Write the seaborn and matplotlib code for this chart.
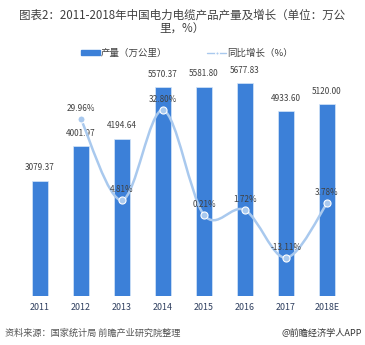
import matplotlib
matplotlib.use("Agg")
import matplotlib.pyplot as plt
import seaborn as sns
import numpy as np
import pandas as pd
from matplotlib.path import Path
from matplotlib.patches import PathPatch
from matplotlib.lines import Line2D
from matplotlib.patches import Patch

years = ["2011", "2012", "2013", "2014", "2015", "2016", "2017", "2018E"]
output = [3079.37, 4001.97, 4194.64, 5570.37, 5581.80, 5677.83, 4933.60, 5120.00]
growth_years = ["2012", "2013", "2014", "2015", "2016", "2017", "2018E"]
growth = [29.96, 4.81, 32.80, 0.21, 1.72, -13.11, 3.78]

title = "图表2：2011-2018年中国电力电缆产品产量及增长（单位：万公\n里，%）"
legend_bar = "产量（万公里）"
legend_line = "同比增长（%）"
source = "资料来源：国家统计局 前瞻产业研究院整理"
credit = "@前瞻经济学人APP"

sns.set_theme(style="white")
plt.rcParams['font.family'] = ['Noto Sans CJK SC', 'DejaVu Sans']

BAR = "#3c80d8"
LINE = "#a9c9ee"
TXT = "#404040"

fig = plt.figure(figsize=(3.65, 3.45), dpi=100)
ax = fig.add_axes([19.5/365, 1-296/345, 328/365, 225/345])

df = pd.DataFrame({"year": years, "output": output})
sns.barplot(data=df, x="year", y="output", color=BAR, width=0.4, ax=ax,
            edgecolor="#d6e6f8", linewidth=0.5, saturation=1)
ax.set_ylim(0, 6000)
ax.set_xlim(-0.5, len(years)-0.5)
for i, v in enumerate(output):
    ax.annotate(f"{v:.2f}", (i, v), xytext=(0, 6), textcoords="offset points",
                ha="center", va="bottom", fontsize=5.9, color=TXT)
ax.set_xlabel("")
ax.set_ylabel("")
ax.set_yticks([])
ax.tick_params(axis="x", length=0, labelsize=6.4, labelcolor="#2f3f5f", pad=5)
for s in ax.spines.values():
    s.set_visible(False)

ax2 = ax.twinx()
ax2.set_ylim(-25, 45)
ax2.set_yticks([])
for s in ax2.spines.values():
    s.set_visible(False)

xs = np.array([years.index(y) for y in growth_years], dtype=float)
ys = np.array(growth, dtype=float)
# smooth curve as cubic Bezier path through the data points
verts = [(xs[0], ys[0])]
codes = [Path.MOVETO]
n = len(xs)
for i in range(n-1):
    p0 = (xs[max(i-1, 0)], ys[max(i-1, 0)])
    p1 = (xs[i], ys[i])
    p2 = (xs[i+1], ys[i+1])
    p3 = (xs[min(i+2, n-1)], ys[min(i+2, n-1)])
    c1 = (p1[0] + (p2[0]-p0[0])/6, p1[1] + (p2[1]-p0[1])/6)
    c2 = (p2[0] - (p3[0]-p1[0])/6, p2[1] - (p3[1]-p1[1])/6)
    verts += [c1, c2, p2]
    codes += [Path.CURVE4]*3
ax2.add_patch(PathPatch(Path(verts, codes), facecolor="none", edgecolor=LINE, lw=1.8, zorder=3))
gdf = pd.DataFrame({"x": xs, "g": ys})
sns.scatterplot(data=gdf, x="x", y="g", ax=ax2, s=26, color=LINE, edgecolor="white",
                linewidth=0.8, zorder=4, legend=False)
ax2.set_xlabel("")
ax2.set_ylabel("")
for x, g in zip(xs, ys):
    ax2.annotate(f"{g:.2f}%", (x, g), xytext=(0, 4.5), textcoords="offset points",
                 ha="center", va="bottom", fontsize=5.9, color=TXT, zorder=5)

fig.text(0.5, 1-9/345, title, ha="center", va="top", fontsize=8.3, color=TXT,
         linespacing=1.1, fontweight="medium")

handles = [Patch(facecolor=BAR, edgecolor=BAR),
           Line2D([0], [0], color=LINE, lw=1, marker="o", markersize=2.5,
                  markerfacecolor=LINE, markeredgecolor="white")]
fig.legend(handles, [legend_bar, legend_line], loc="center", bbox_to_anchor=(0.512, 1-53/345),
           ncol=2, frameon=False, fontsize=6.8, labelcolor=TXT, handlelength=2.0,
           handleheight=0.4, columnspacing=4.2, handletextpad=0.1)

fig.text(5/365, 1-333/345, source, ha="left", va="center", fontsize=6.6, color="#555555",
         style="italic")
fig.text(362/365, 1-333/345, credit, ha="right", va="center", fontsize=6.6, color="#333333")

fig.savefig("out.png", dpi=100)
